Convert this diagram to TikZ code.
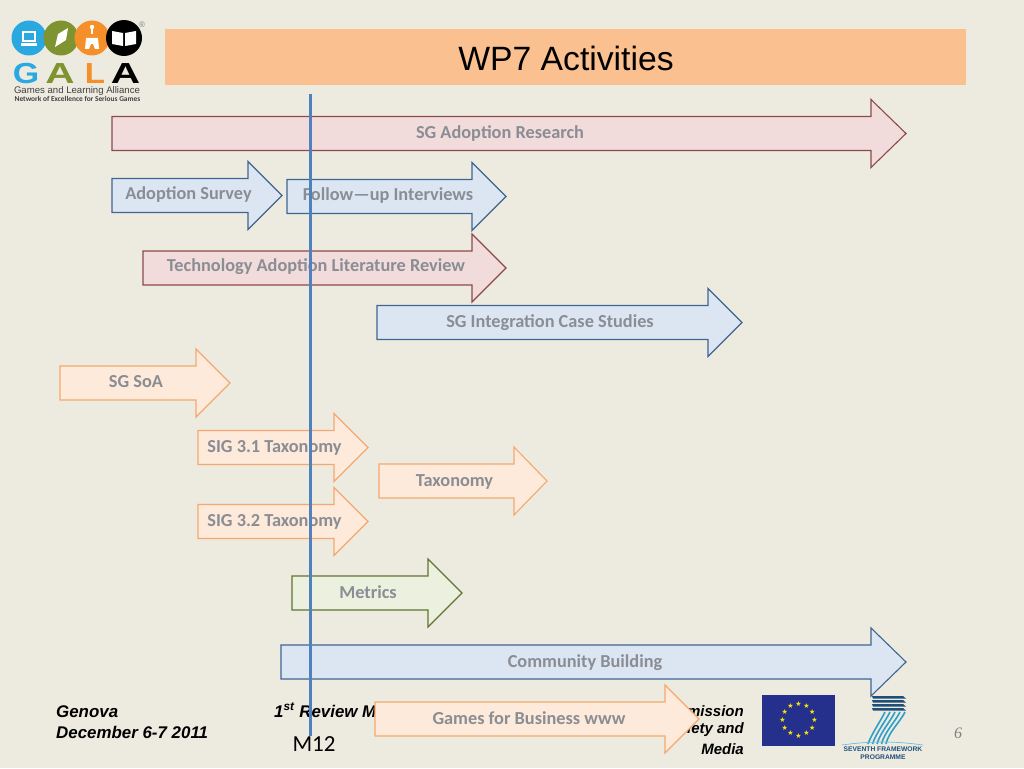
\documentclass[tikz,border=0pt]{standalone}
\usepackage{fontspec}
\setmainfont{Liberation Sans}
\newfontfamily\carl{Carlito}
\newfontfamily\serifit{Liberation Serif}
\newfontfamily\djv{DejaVu Sans}
\usetikzlibrary{calc}
\definecolor{bgc}{HTML}{EDEBE0}
\definecolor{titlec}{HTML}{FAC08F}
\definecolor{pinkf}{HTML}{F2DCDB}\definecolor{pinkd}{HTML}{8C4A4C}
\definecolor{bluef}{HTML}{DCE6F2}\definecolor{blued}{HTML}{3F6591}
\definecolor{orgf}{HTML}{FDEADA}\definecolor{orgd}{HTML}{F4A870}
\definecolor{grnf}{HTML}{EBF1DE}\definecolor{grnd}{HTML}{5F7530}
\definecolor{lblc}{HTML}{8A8D94}
\definecolor{mline}{HTML}{4F81BD}
\definecolor{galab}{HTML}{29A9E0}\definecolor{galag}{HTML}{7F9431}\definecolor{galao}{HTML}{F58F29}
\definecolor{euc}{HTML}{25308C}\definecolor{fpb}{HTML}{2E9FC9}\definecolor{fpd}{HTML}{1F4E79}
\tikzset{
  pinkarrow/.style={draw=pinkd,fill=pinkf,line width=1.1pt},
  bluearrow/.style={draw=blued,fill=bluef,line width=1.1pt},
  orgarrow/.style={draw=orgd,fill=orgf,line width=1.1pt},
  grnarrow/.style={draw=grnd,fill=grnf,line width=1.1pt},
  arrowlabel/.style={font=\carl\bfseries\fontsize{18.3}{20}\selectfont,text=lblc,inner sep=0pt},
  foot/.style={font=\bfseries\itshape\fontsize{16.9}{21}\selectfont,inner sep=0pt,text=black},
  footr/.style={font=\bfseries\itshape\fontsize{15}{20}\selectfont,inner sep=0pt,text=black,anchor=east},
  logoletter/.style={font=\bfseries\fontsize{29}{29}\selectfont,inner sep=0pt},
}
\newcommand{\gparrow}[9]{%
  \draw[#2] (#3,#6-17) -- (#4,#6-17) -- (#4,#6-34) -- (#5,#6) -- (#4,#6+34) -- (#4,#6+17) -- (#3,#6+17) -- cycle;
  \node[arrowlabel] (#1) at (#7,#8) {#9};
}
\begin{document}
\begin{tikzpicture}[x=1pt,y=-1pt]
\useasboundingbox (0,0) rectangle (1024,768);
\fill[bgc] (0,0) rectangle (1024,768);
% title
\fill[titlec] (165,29) rectangle (966,85);
\node[font=\fontsize{33.7}{38}\selectfont,inner sep=0pt] (title) at (566,58) {WP7 Activities};
% logo
\fill[galab] (29,38) circle (17.5);
\fill[galag] (61,38) circle (17.5);
\fill[galao] (92,38) circle (17.5);
\fill[black] (124,38) circle (18);
\fill[white] (22,31) rectangle (36,42); \fill[galab] (24,33) rectangle (34,40); \fill[white] (21,43) rectangle (37,46);
\fill[white] (55,47) -- (58,34) -- (68,28) -- (66,40) -- cycle;
\fill[white] (91,27) rectangle (93,34); \fill[white] (92,27) circle (2.2);
\fill[white] (85,49) -- (86,38) -- (98,38) -- (99,49) -- (95,49) -- (93,44) -- (91,44) -- (89,49) -- cycle;
\fill[white] (112,31) -- (123,33) -- (123,46) -- (112,44) -- cycle;
\fill[white] (125,33) -- (136,31) -- (136,44) -- (125,46) -- cycle;
\node[font=\fontsize{8}{8}\selectfont,text=gray,inner sep=0pt] (reg) at (142,25) {®};
\node[logoletter,text=galab] (lg) at (26,73.5) {\scalebox{1.17}[1]{G}};
\node[logoletter,text=galag] (la) at (60,73.5) {\scalebox{1.4}[1]{A}};
\node[logoletter,text=galao] (ll) at (95,73.5) {\scalebox{1.14}[1]{L}};
\node[logoletter,text=black] (la2) at (125.5,73.5) {\scalebox{1.4}[1]{A}};
\node[font=\fontsize{9.6}{9}\selectfont,text=black!75,inner sep=0pt] (lt1) at (77,91) {Games and Learning Alliance};
\node[font=\carl\bfseries\fontsize{7.4}{8}\selectfont,text=black!75,inner sep=0pt] (lt2) at (77.5,99) {Network of Excellence for Serious Games};
% footer
\node[foot,anchor=west] (f1) at (56,712) {Genova};
\node[foot,anchor=west] (f2) at (56,732.5) {December 6-7 2011};
\node[foot,anchor=west] (f3) at (274,712) {1\textsuperscript{st} Review Meeting};
\node[footr] (f4) at (744,711) {Commission};
\node[footr] (f5) at (744,729.5) {Society and};
\node[footr] (f6) at (744,749) {Media};
\node[font=\carl\fontsize{23}{24}\selectfont,inner sep=0pt] (m12) at (314,744) {M12};
\node[font=\serifit\itshape\fontsize{16}{18}\selectfont,text=gray,inner sep=0pt] (pg) at (958,733) {6};
% EU flag
\fill[euc] (762,695) rectangle (835,746);
\foreach \a in {0,30,...,330}
  \node[font=\djv\fontsize{7}{7}\selectfont,text=yellow!90!orange,inner sep=0pt] at ({798.5+16*sin(\a)},{719.5-16*cos(\a)}) {★};
% FP7 logo
\foreach \yy in {696,700,704,708}
  \fill[fpd] (872,\yy) -- (903,\yy) -- (906,\yy+2.6) -- (873,\yy+2.6) -- cycle;
\foreach \dx in {0,5,10,15,20}
  \draw[fpb,line width=1.6pt] (885+\dx,712) .. controls (880+\dx,722) and (872+\dx*.8,733) .. (868+\dx*.9,744);
\draw[fpb!70,line width=.7pt] (842,745) .. controls (870,741) and (895,741) .. (923,745);
\node[font=\bfseries\fontsize{6.7}{8}\selectfont,text=fpd,align=center,inner sep=0pt] (fp) at (883,753) {SEVENTH FRAMEWORK\\PROGRAMME};
% arrows
\gparrow{a1}{pinkarrow}{112}{871}{906}{133.5}{500}{133.5}{SG Adoption Research}
\gparrow{a2}{bluearrow}{112}{248}{282}{195.5}{188.5}{195}{Adoption Survey}
\gparrow{a3}{bluearrow}{287}{472}{506}{196.5}{388}{195.5}{Follow—up Interviews}
\gparrow{a4}{pinkarrow}{143}{472}{506}{268}{316}{267}{Technology Adoption Literature Review}
\gparrow{a5}{bluearrow}{377}{708}{742}{322.5}{550}{323}{SG Integration Case Studies}
\gparrow{a6}{orgarrow}{60}{196}{230}{383}{136}{381.5}{SG SoA}
\gparrow{a7}{orgarrow}{198}{334}{368}{447.5}{274.5}{448}{SIG 3.1 Taxonomy}
\gparrow{a8}{orgarrow}{379}{514}{547}{481}{454.5}{482}{Taxonomy}
\gparrow{a9}{orgarrow}{198}{334}{368}{521.5}{274.5}{522}{SIG 3.2 Taxonomy}
\gparrow{a10}{grnarrow}{292}{428}{462}{593}{368}{592}{Metrics}
\gparrow{a11}{bluearrow}{281}{871}{906}{662}{585}{663}{Community Building}
\gparrow{a12}{orgarrow}{375}{665}{699}{719}{529}{718}{Games for Business www}
% M12 marker
\coordinate (mtop) at (310.5,94);
\coordinate (mbot) at (310.5,736);
\draw[mline,line width=3pt] (mtop) -- (mbot);
\end{tikzpicture}
\end{document}
